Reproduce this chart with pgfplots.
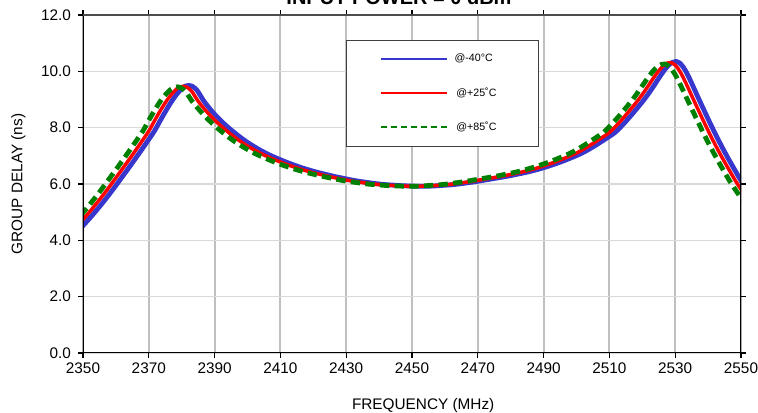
\documentclass[border=0pt]{standalone}
\usepackage{pgfplots}
\pgfplotsset{compat=1.18}
\usepackage{fontspec}
\setmainfont{Liberation Sans}
\definecolor{cblue}{RGB}{55,55,205}
\definecolor{cred}{RGB}{255,0,0}
\definecolor{cgreen}{RGB}{0,128,0}
\definecolor{gridv}{RGB}{192,192,192}
\definecolor{gridh}{RGB}{217,217,217}
\begin{document}
\begin{tikzpicture}
\begin{axis}[
  scale only axis, width=493.5pt, height=253.5pt,
  xmin=2350, xmax=2550, ymin=0, ymax=12,
  xtick={2350,2370,...,2550}, ytick={0,2,...,12},
  axis line style={draw=none},
  tick align=outside, major tick length=3.5pt,
  tick style={black, line width=0.8pt},
  xmajorgrids, ymajorgrids,
  x grid style={gridv, line width=1.5pt},
  y grid style={gridh, line width=1.1pt},
  tick label style={font=\fontsize{11.5}{13}\selectfont},
  /pgf/number format/assume math mode=true,
  x tick label style={/pgf/number format/.cd, set thousands separator={}, /tikz/.cd},
  y tick label style={xshift=-2pt, /pgf/number format/.cd, fixed, fixed zerofill, precision=1, /tikz/.cd},
  xlabel={FREQUENCY (MHz)}, ylabel={GROUP DELAY (ns)},
  label style={font=\fontsize{11.5}{13}\selectfont},
  xlabel style={at={(axis description cs:0.517,-0.154)}, anchor=center},
  ylabel style={at={(axis description cs:-0.098,0.5)}, anchor=center},
  legend style={at={(0.3997,0.926)}, anchor=north west, draw=black!75, line width=0.6pt,
    fill=white, font=\fontsize{8}{9.6}\selectfont, inner xsep=25pt, inner ysep=8pt,
    row sep=14pt, /tikz/every odd column/.append style={column sep=2.5pt}},
  legend cell align=left,
  legend image code/.code={\draw[#1] (0pt,0pt) -- (50pt,0pt);},
]
\addplot[cblue, line width=3.6pt, smooth, forget plot] coordinates {
(2346.7,4.12) (2349.2,4.42) (2351.7,4.74) (2354.2,5.08) (2356.7,5.44) (2359.2,5.82)
(2361.7,6.22) (2364.2,6.62) (2366.7,7.03) (2369.2,7.45) (2371.7,7.88) (2373.7,8.30)
(2375.7,8.70) (2377.2,8.98) (2378.7,9.22) (2380.2,9.40) (2381.2,9.48) (2382.2,9.50)
(2383.2,9.47) (2384.7,9.32) (2386.7,8.95) (2389.2,8.58) (2391.7,8.27) (2394.2,8.00)
(2396.7,7.76) (2399.2,7.54) (2401.7,7.35) (2404.2,7.18) (2406.7,7.03) (2409.2,6.90)
(2411.7,6.78)
(2414.2,6.67) (2416.7,6.57) (2419.2,6.48) (2421.7,6.40) (2424.2,6.33) (2426.7,6.26)
(2429.2,6.20) (2431.7,6.14) (2434.2,6.09) (2436.7,6.05) (2439.2,6.01) (2441.7,5.98)
(2444.2,5.96) (2446.7,5.94) (2449.2,5.93) (2451.7,5.92) (2454.2,5.92) (2456.7,5.93)
(2459.2,5.95) (2461.7,5.97) (2464.2,6.00) (2466.7,6.04) (2469.2,6.08) (2471.7,6.13)
(2474.2,6.18) (2476.7,6.23) (2479.2,6.28) (2481.7,6.34) (2484.2,6.40) (2486.7,6.47)
(2489.2,6.55) (2491.7,6.64) (2494.2,6.74) (2496.7,6.85) (2499.2,6.97) (2501.7,7.10)
(2504.2,7.26) (2506.7,7.44) (2509.2,7.63) (2511.7,7.83)
(2514.2,8.12) (2516.7,8.45) (2519.2,8.80) (2520.7,9.02) (2522.2,9.26) (2523.7,9.52)
(2525.2,9.79) (2526.7,10.04) (2528.0,10.22) (2529.2,10.32) (2530.3,10.35) (2531.4,10.29)
(2532.5,10.14) (2533.7,9.90) (2535.0,9.58) (2536.5,9.19) (2538.2,8.76) (2540.2,8.26)
(2542.7,7.66) (2545.2,7.10) (2547.7,6.58) (2550.2,6.08) (2552.7,5.64) (2555.7,5.14)};
\addplot[cred, line width=2.6pt, smooth, forget plot] coordinates {
(2345,4.12) (2347.5,4.42) (2350,4.74) (2352.5,5.08) (2355,5.44) (2357.5,5.82)
(2360,6.22) (2362.5,6.62) (2365,7.03) (2367.5,7.45) (2370,7.88) (2372,8.30)
(2374,8.70) (2375.5,8.97) (2377,9.20) (2378.5,9.38) (2379.5,9.45) (2380.5,9.47)
(2381.5,9.44) (2383,9.30) (2385,8.94) (2387.5,8.58) (2390,8.27) (2392.5,8.00)
(2395,7.76) (2397.5,7.54) (2400,7.35) (2402.5,7.18) (2405,7.03) (2407.5,6.90)
(2410,6.78)
(2412.5,6.67) (2415,6.57) (2417.5,6.48) (2420,6.40) (2422.5,6.33) (2425,6.26)
(2427.5,6.20) (2430,6.14) (2432.5,6.09) (2435,6.05) (2437.5,6.01) (2440,5.98)
(2442.5,5.96) (2445,5.94) (2447.5,5.93) (2450,5.92) (2452.5,5.92) (2455,5.93)
(2457.5,5.95) (2460,5.97) (2462.5,6.00) (2465,6.04) (2467.5,6.08) (2470,6.13)
(2472.5,6.18) (2475,6.23) (2477.5,6.28) (2480,6.34) (2482.5,6.40) (2485,6.47)
(2487.5,6.55) (2490,6.64) (2492.5,6.74) (2495,6.85) (2497.5,6.97) (2500,7.10)
(2502.5,7.26) (2505,7.44) (2507.5,7.63) (2510,7.83)
(2512.5,8.12) (2515,8.45) (2517.5,8.80) (2519,9.02) (2520.5,9.26) (2522,9.52)
(2523.5,9.78) (2525,10.02) (2526.3,10.19) (2527.5,10.29) (2528.6,10.31) (2529.7,10.25)
(2530.8,10.11) (2532,9.88) (2533.3,9.57) (2534.8,9.19) (2536.5,8.76) (2538.5,8.26)
(2541,7.66) (2543.5,7.10) (2546,6.58) (2548.5,6.08) (2551,5.64) (2554,5.14)};
\addplot[cgreen, line width=3.6pt, dash pattern=on 7pt off 4pt, smooth, forget plot] coordinates {
(2343.2,4.12) (2345.7,4.42) (2348.2,4.74) (2350.7,5.08) (2353.2,5.44) (2355.7,5.82)
(2358.2,6.22) (2360.7,6.62) (2363.2,7.03) (2365.7,7.45) (2368.2,7.88) (2370.2,8.30)
(2372.2,8.70) (2373.7,8.97) (2375.2,9.19) (2376.7,9.36) (2377.7,9.43) (2378.7,9.45)
(2379.7,9.42) (2381.2,9.28) (2383.2,8.93) (2385.7,8.58) (2388.2,8.27) (2390.7,8.00)
(2393.2,7.76) (2395.7,7.54) (2398.2,7.35) (2400.7,7.18) (2403.2,7.03) (2405.7,6.90)
(2408.2,6.78)
(2410.7,6.67) (2413.2,6.57) (2415.7,6.48) (2418.2,6.40) (2420.7,6.33) (2423.2,6.26)
(2425.7,6.20) (2428.2,6.14) (2430.7,6.09) (2433.2,6.05) (2435.7,6.01) (2438.2,5.98)
(2440.7,5.96) (2443.2,5.94) (2445.7,5.93) (2448.2,5.92) (2450.7,5.92) (2453.2,5.93)
(2455.7,5.95) (2458.2,5.97) (2460.7,6.00) (2463.2,6.04) (2465.7,6.08) (2468.2,6.13)
(2470.7,6.18) (2473.2,6.23) (2475.7,6.28) (2478.2,6.34) (2480.7,6.40) (2483.2,6.47)
(2485.7,6.55) (2488.2,6.64) (2490.7,6.74) (2493.2,6.85) (2495.7,6.97) (2498.2,7.10)
(2500.7,7.26) (2503.2,7.44) (2505.7,7.63) (2508.2,7.83)
(2510.7,8.12) (2513.2,8.45) (2515.7,8.80) (2517.2,9.02) (2518.7,9.26) (2520.2,9.52)
(2521.7,9.77) (2523.2,10.00) (2524.5,10.15) (2525.7,10.24) (2526.8,10.26) (2527.9,10.20)
(2529.0,10.06) (2530.2,9.84) (2531.5,9.54) (2533.0,9.17) (2534.7,8.75) (2536.7,8.26)
(2539.2,7.66) (2541.7,7.10) (2544.2,6.58) (2546.7,6.08) (2549.2,5.64) (2552.2,5.14)};
\addlegendimage{cblue, line width=1.6pt}
\addlegendentry{\makebox[36pt][l]{@-40°C}}
\addlegendimage{cred, line width=1.6pt}
\addlegendentry{\makebox[36pt][l]{\,@+25˚C}}
\addlegendimage{cgreen, line width=1.6pt, dash pattern=on 5pt off 2.5pt}
\addlegendentry{\makebox[36pt][l]{\,@+85˚C}}
\draw[black, line width=2.2pt] (rel axis cs:0,1) -- (rel axis cs:0,0) -- (rel axis cs:1,0) -- (rel axis cs:1,1);
\draw[black!70, line width=0.9pt] (rel axis cs:0,1) -- (rel axis cs:1,1);
\end{axis}
\node[anchor=base, font=\bfseries\fontsize{15}{18}\selectfont] at (237pt,261.2pt) {INPUT POWER = 0 dBm};
\pgfresetboundingbox
\useasboundingbox (-62.25pt,-45pt) rectangle (506.25pt,264.75pt);
\end{tikzpicture}
\end{document}
